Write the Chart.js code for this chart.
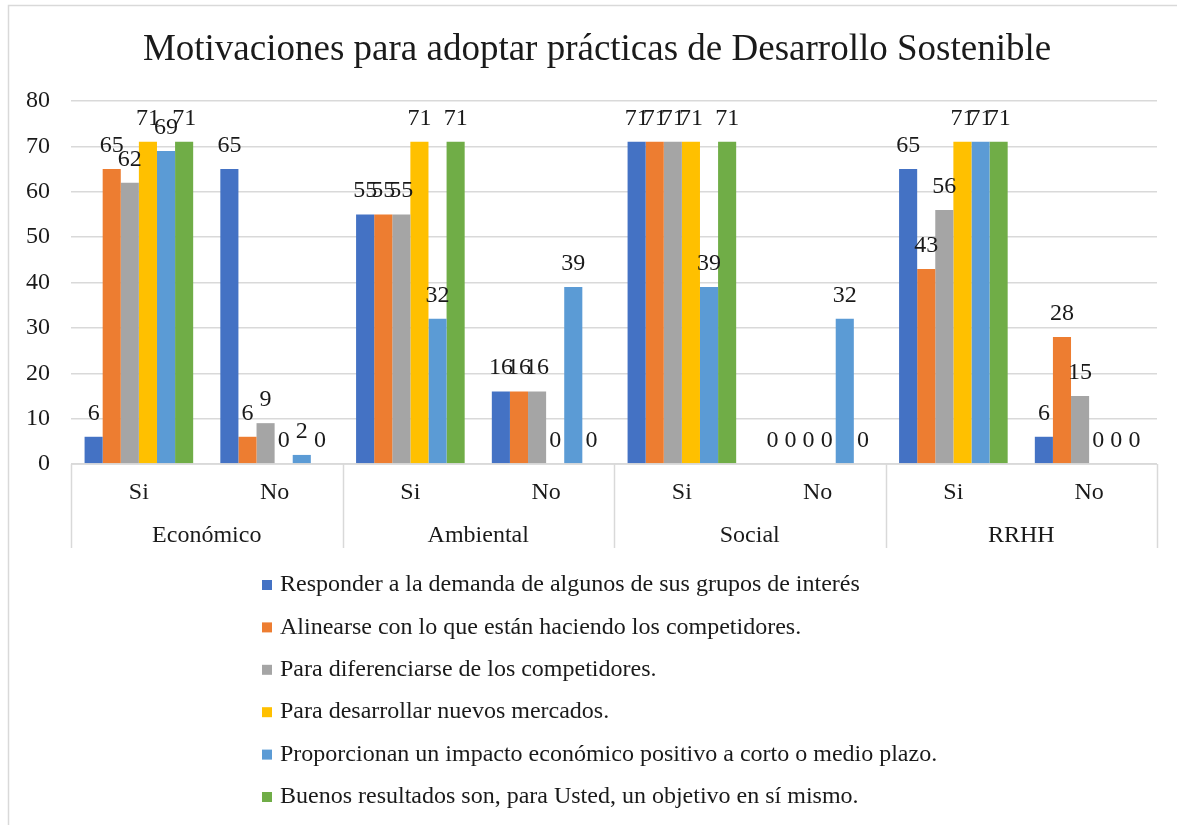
<!DOCTYPE html>
<html>
<head>
<meta charset="utf-8">
<script src="https://cdn.jsdelivr.net/npm/chart.js@4.4.0/dist/chart.umd.min.js"></script>
<style>
    html, body { margin: 0; padding: 0; background: #fff; }
    #contenedor { position: relative; width: 1177px; height: 825px; }
</style>
</head>
<body>
<div id="contenedor"><canvas id="grafico"></canvas></div>
<script>
// Datos del gráfico
const titulo = "Motivaciones para adoptar prácticas de Desarrollo Sostenible";
const grupos = ["Económico", "Ambiental", "Social", "RRHH"];
const respuestas = ["Si", "No", "Si", "No", "Si", "No", "Si", "No"];
const ticksY = [0, 10, 20, 30, 40, 50, 60, 70, 80];

const responder = [6, 65, 55, 16, 71, 0, 65, 6];
const alinearse = [65, 6, 55, 16, 71, 0, 43, 28];
const diferenciarse = [62, 9, 55, 16, 71, 0, 56, 15];
const mercados = [71, 0, 71, 0, 71, 0, 71, 0];
const impacto = [69, 2, 32, 39, 39, 32, 71, 0];
const resultados = [71, 0, 71, 0, 71, 0, 71, 0];

const series = [
    { label: "Responder a la demanda de algunos de sus grupos de interés", data: responder, color: "#4472C4" },
    { label: "Alinearse con lo que están haciendo los competidores.", data: alinearse, color: "#ED7D31" },
    { label: "Para diferenciarse de los competidores.", data: diferenciarse, color: "#A5A5A5" },
    { label: "Para desarrollar nuevos mercados.", data: mercados, color: "#FFC000" },
    { label: "Proporcionan un impacto económico positivo a corto o medio plazo.", data: impacto, color: "#5B9BD5" },
    { label: "Buenos resultados son, para Usted, un objetivo en sí mismo.", data: resultados, color: "#70AD47" }
];

const fuente = '"Liberation Serif", "Times New Roman", serif';
const colorTexto = "#1a1a1a";
const colorLinea = "#d9d9d9";

// Plugin: marco, título, eje de categorías agrupado, etiquetas de datos y leyenda
const extras = {
    id: "extras",
    beforeDraw(chart) {
        const ctx = chart.ctx;
        ctx.save();
        ctx.strokeStyle = colorLinea;
        ctx.lineWidth = 1.5;
        ctx.strokeRect(8.5, 5.5, chart.width + 10, chart.height + 10);
        ctx.restore();
    },
    afterDraw(chart) {
        const ctx = chart.ctx;
        const area = chart.chartArea;
        const x = chart.scales.x;
        ctx.save();

        // Título
        ctx.fillStyle = colorTexto;
        ctx.font = "37px " + fuente;
        ctx.textAlign = "center";
        ctx.textBaseline = "middle";
        ctx.fillText(titulo, 597, 50);

        // Líneas del eje X y separadores de grupo
        ctx.strokeStyle = colorLinea;
        ctx.lineWidth = 1.5;
        ctx.beginPath();
        ctx.moveTo(area.left, area.bottom);
        ctx.lineTo(area.right, area.bottom);
        const ancho = (area.right - area.left) / grupos.length;
        for (let g = 0; g <= grupos.length; g++) {
            const gx = Math.round(area.left + g * ancho) + 0.5;
            ctx.moveTo(gx, area.bottom);
            ctx.lineTo(gx, area.bottom + 84);
        }
        ctx.stroke();

        // Etiquetas Si / No y grupos
        ctx.font = "24px " + fuente;
        respuestas.forEach((r, i) => {
            ctx.fillText(r, x.getPixelForValue(i), area.bottom + 29);
        });
        grupos.forEach((g, i) => {
            ctx.fillText(g, area.left + (i + 0.5) * ancho, area.bottom + 72);
        });

        // Etiquetas de datos
        ctx.textBaseline = "alphabetic";
        chart.data.datasets.forEach((ds, i) => {
            chart.getDatasetMeta(i).data.forEach((barra, j) => {
                ctx.fillText(String(ds.data[j]), barra.x, barra.y - 17);
            });
        });

        // Leyenda vertical
        ctx.textAlign = "left";
        ctx.textBaseline = "middle";
        chart.data.datasets.forEach((ds, i) => {
            const y = 585 + i * 42.4;
            ctx.fillStyle = ds.backgroundColor;
            ctx.fillRect(262, y - 5, 10, 10);
            ctx.fillStyle = colorTexto;
            ctx.fillText(ds.label, 280, y);
        });
        ctx.restore();
    }
};

new Chart(document.getElementById("grafico"), {
    type: "bar",
    data: {
        labels: respuestas,
        datasets: series.map(s => ({
            label: s.label,
            data: s.data,
            backgroundColor: s.color,
            borderWidth: 0,
            categoryPercentage: 0.8,
            barPercentage: 1.0
        }))
    },
    options: {
        responsive: true,
        maintainAspectRatio: false,
        animation: false,
        layout: { padding: { left: 0, right: 20, top: 101, bottom: 361 } },
        plugins: {
            legend: { display: false },
            tooltip: { enabled: false },
            title: { display: false }
        },
        scales: {
            x: {
                ticks: { display: false },
                grid: { display: false, drawTicks: false },
                border: { display: false },
                afterFit(axis) { axis.height = 0; }
            },
            y: {
                min: 0,
                max: 80,
                afterBuildTicks(axis) { axis.ticks = ticksY.map(v => ({ value: v })); },
                ticks: {
                    padding: 21,
                    color: colorTexto,
                    font: { family: fuente, size: 24 }
                },
                grid: { color: colorLinea, lineWidth: 1.5, drawTicks: false },
                border: { display: false },
                afterFit(axis) { axis.width = 71; }
            }
        }
    },
    plugins: [extras]
});
</script>
</body>
</html>
